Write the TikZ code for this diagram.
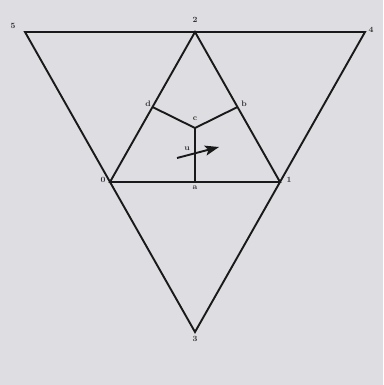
\documentclass[tikz,border=0pt]{standalone}
\usetikzlibrary{arrows.meta}
\definecolor{bg}{HTML}{DEDDE2}
\begin{document}
\begin{tikzpicture}[x=1pt,y=-1pt,
  edge/.style={line width=1.9pt,black!90},
  lbl/.style={font=\fontsize{8}{9}\selectfont\bfseries,inner sep=0pt,text=black!80}]
\fill[bg] (0,0) rectangle (383,385);
\useasboundingbox (0,0) rectangle (383,385);
\coordinate (p5) at (25,32);
\coordinate (p2) at (195,32);
\coordinate (p4) at (365,32);
\coordinate (p0) at (110,182);
\coordinate (p1) at (280,182);
\coordinate (p3) at (195,332);
\coordinate (pd) at (152.5,107);
\coordinate (pb) at (237.5,107);
\coordinate (pc) at (195,128);
\coordinate (pa) at (195,182);
\coordinate (us) at (177,158);
\coordinate (ue) at (219,147);
\draw[edge] (p5) -- (p4) -- (p3) -- cycle;
\draw[edge] (p0) -- (p2) -- (p1) -- cycle;
\draw[edge] (pd) -- (pc) -- (pb);
\draw[edge] (pc) -- (pa);
\draw[edge,-{Stealth[length=14pt,width=10pt,inset=3pt]}] (us) -- (ue);
\node[lbl] (l5) at (13,26) {5};
\node[lbl] (l2) at (195,20) {2};
\node[lbl] (l4) at (371,30) {4};
\node[lbl] (l0) at (103,180) {0};
\node[lbl] (l1) at (289,180) {1};
\node[lbl] (l3) at (195,339) {3};
\node[lbl] (ld) at (148,104) {d};
\node[lbl] (lb) at (244,104) {b};
\node[lbl] (lc) at (195,119) {c};
\node[lbl] (la) at (195,188) {a};
\node[lbl] (lu) at (187,149) {u};
\end{tikzpicture}
\end{document}
